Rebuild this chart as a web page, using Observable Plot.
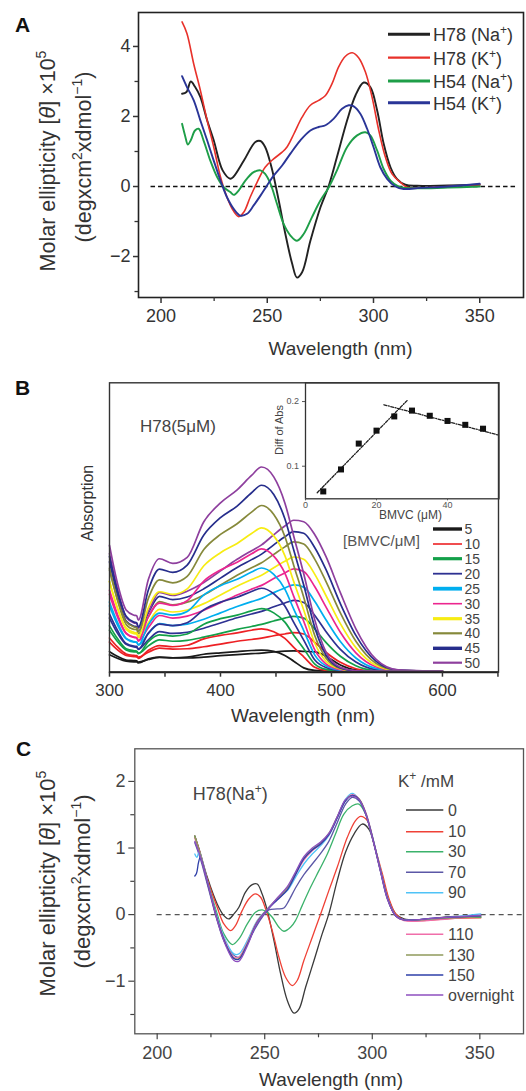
<!DOCTYPE html>
<html>
<head>
<meta charset="utf-8">
<script src="https://cdn.jsdelivr.net/npm/d3@7"></script>
<script src="https://cdn.jsdelivr.net/npm/@observablehq/plot@0.6"></script>
<style>
  html,body{margin:0;padding:0;background:#fff;}
  #page{position:relative;width:526px;height:1091px;overflow:hidden;background:#fff;}
</style>
</head>
<body>
<div id="page"></div>
<script>
// ---------------- Panel A data: CD spectra (wavelength nm, ellipticity x1e5) ----------------
const seriesNamesA = ["H78 (Na+)", "H78 (K+)", "H54 (Na+)", "H54 (K+)"];
const colorsA = ["#222222", "#e8312a", "#1e9e48", "#2a3597"];
const h78Na = [[209.9,2.65],[212,2.7],[214,3.0],[216,2.85],[218.5,2.56],[221.7,1.89],[224.8,1.32],[229,0.46],[232.6,0.22],[234,0.27],[239,0.74],[244.4,1.27],[246.8,1.3],[249,1.13],[252,0.55],[255.4,-0.4],[258.5,-1.35],[261.7,-2.2],[264,-2.6],[266.4,-2.45],[270.3,-1.55],[275,-0.6],[279,0.03],[282.8,0.84],[287.6,1.89],[291.5,2.6],[295.4,2.97],[298.5,2.84],[301.7,2.18],[304.8,1.22],[308,0.55],[311,0.22],[315,0.05],[320.5,0.02],[335,0.03],[350,0.05]];
const h78K = [[209.9,4.7],[212.2,4.37],[215.4,3.5],[218.5,2.75],[221.7,1.89],[224.8,1.13],[228,0.27],[231,-0.3],[234,-0.69],[236.6,-0.86],[239,-0.73],[242,-0.3],[245.2,0.12],[249,0.55],[253,0.79],[257,0.98],[259.3,1.13],[262.5,1.5],[266.4,1.98],[270.3,2.32],[274.2,2.46],[277.4,2.6],[280.5,2.94],[283.6,3.42],[286.8,3.72],[290,3.82],[293,3.68],[296.2,3.27],[299.3,2.56],[302.5,1.6],[305.6,0.84],[308.7,0.36],[312.7,0.12],[315.8,-0.02],[322,-0.04],[335,0.0],[350,0.05]];
const h54Na = [[209.9,1.79],[211.5,1.41],[212.6,1.2],[214,1.32],[216,1.6],[217.7,1.65],[220,1.32],[223.2,0.74],[226.4,0.27],[229.5,-0.02],[232.6,-0.16],[234.2,-0.24],[236.6,-0.11],[239.7,0.17],[243.6,0.41],[246.8,0.46],[249,0.36],[251.5,0.08],[254.6,-0.5],[257.7,-1.07],[260.9,-1.4],[264,-1.55],[267.2,-1.35],[271,-0.88],[275,-0.4],[279,-0.02],[282.8,0.46],[287.6,1.13],[292.3,1.46],[296.2,1.55],[298.5,1.46],[301.7,1.03],[304.8,0.5],[308,0.17],[311.9,0.0],[317.4,-0.05],[335,-0.03],[350,0.0]];
const h54K = [[209.9,3.15],[212.2,2.84],[215.4,2.46],[218.5,1.89],[221.7,1.32],[224.8,0.74],[228,0.17],[231,-0.3],[234.2,-0.64],[237.3,-0.83],[240.5,-0.78],[243.6,-0.54],[246.8,-0.26],[249.9,0.03],[253,0.31],[257,0.6],[260.9,0.94],[265.6,1.32],[270.3,1.6],[274.2,1.7],[277.4,1.75],[281.3,1.94],[285.2,2.22],[288.3,2.32],[290.7,2.29],[293.8,2.08],[297,1.65],[300,1.13],[303.2,0.55],[306.4,0.22],[310.3,0.0],[314.2,-0.07],[322,-0.04],[335,0.0],[350,0.08]];
const xTicksA = [200, 250, 300, 350];
const xMinorA = [225, 275, 325];
const yTicksA = [-2, 0, 2, 4];
const yMinorA = [-3, -1, 1, 3];
const zeroSpanA = [195.3, 367.6];

// ---------------- Panel B data: absorption (wavelength nm, relative absorbance) ----------------
const wlB = [300,307,315,322,324.5,326,335,345,357,370,385,400,415,428,437,448,458,466,475,485,495,508,522,540,560,600];
const concB = ["5","10","15","20","25","30","35","40","45","50"];
const colorsB = ["#1a1a1a","#ed2024","#13a049","#2e3192","#00aeef","#ec268f","#f7ec13","#86893b","#262d8c","#8e3f9e"];
const legendWidthsB = [3.4,1.6,3.2,1.8,3.8,1.6,3.2,2.2,3.4,2.2];
// band peaking near 435 nm
const a5  = [.060,.048,.038,.036,.036,.032,.046,.052,.050,.052,.062,.067,.071,.075,.076,.072,.058,.038,.015,.006,.004,.003,.003,.003,.003,.003];
const a10 = [.104,.078,.058,.054,.053,.048,.076,.092,.088,.093,.115,.127,.136,.145,.150,.140,.117,.086,.053,.017,.006,.003,.003,.003,.003,.003];
const a15 = [.145,.107,.077,.070,.070,.064,.106,.129,.125,.132,.166,.185,.197,.212,.220,.205,.173,.128,.081,.028,.010,.005,.003,.003,.003,.003];
const a20 = [.187,.136,.096,.087,.086,.079,.135,.166,.161,.171,.216,.242,.259,.279,.290,.271,.229,.172,.111,.042,.016,.006,.004,.003,.003,.003];
const a25 = [.229,.165,.115,.104,.103,.094,.164,.204,.197,.210,.267,.299,.321,.346,.360,.338,.287,.218,.144,.059,.022,.007,.004,.003,.003,.003];
const a30 = [.269,.193,.133,.120,.119,.108,.192,.239,.231,.247,.315,.353,.380,.409,.426,.401,.342,.262,.176,.077,.029,.009,.004,.003,.003,.003];
const a35 = [.313,.223,.153,.138,.136,.124,.222,.278,.269,.288,.368,.413,.445,.479,.499,.471,.403,.313,.215,.100,.038,.011,.004,.003,.003,.003];
const a40 = [.359,.255,.174,.156,.154,.141,.255,.319,.309,.331,.424,.476,.513,.553,.576,.545,.469,.369,.259,.126,.049,.013,.005,.003,.003,.003];
const a45 = [.400,.284,.193,.173,.171,.156,.284,.356,.345,.370,.474,.534,.574,.620,.646,.614,.530,.422,.301,.154,.060,.015,.005,.003,.003,.003];
const a50 = [.438,.310,.215,.197,.195,.180,.320,.392,.376,.397,.520,.585,.630,.680,.709,.675,.585,.470,.340,.180,.070,.017,.005,.003,.003,.003];
// band peaking near 468 nm
const b5  = [.071,.055,.042,.040,.039,.035,.044,.051,.049,.049,.052,.057,.061,.064,.066,.070,.073,.074,.072,.070,.055,.025,.008,.004,.003,.003];
const b10 = [.118,.088,.063,.058,.057,.052,.069,.083,.080,.081,.088,.097,.107,.113,.118,.126,.132,.137,.132,.103,.069,.034,.012,.003,.003,.003];
const b15 = [.160,.117,.081,.074,.073,.066,.091,.112,.107,.110,.121,.134,.148,.158,.165,.177,.187,.193,.187,.149,.103,.055,.022,.005,.003,.003];
const b20 = [.201,.146,.099,.090,.089,.080,.112,.140,.134,.138,.152,.170,.188,.201,.210,.226,.239,.248,.241,.196,.141,.079,.035,.009,.004,.003];
const b25 = [.242,.174,.117,.106,.104,.094,.133,.168,.161,.166,.183,.205,.227,.244,.255,.275,.291,.302,.294,.244,.181,.106,.049,.013,.004,.003];
const b30 = [.283,.202,.135,.121,.120,.108,.154,.196,.187,.194,.214,.240,.267,.287,.300,.324,.343,.357,.348,.295,.226,.138,.067,.019,.005,.003];
const b35 = [.314,.224,.148,.133,.132,.119,.171,.217,.208,.215,.237,.267,.297,.320,.335,.361,.383,.398,.390,.338,.265,.168,.085,.024,.005,.003];
const b40 = [.353,.251,.165,.148,.147,.133,.191,.244,.233,.242,.267,.301,.335,.361,.378,.407,.433,.450,.443,.390,.314,.205,.107,.031,.006,.003];
const b45 = [.381,.270,.177,.159,.157,.142,.205,.262,.251,.260,.288,.325,.362,.389,.408,.440,.468,.486,.480,.430,.355,.237,.127,.038,.007,.003];
const b50 = [.410,.290,.190,.170,.168,.152,.210,.276,.265,.280,.310,.350,.390,.420,.440,.475,.505,.525,.520,.475,.400,.275,.150,.045,.008,.003];
const xTicksB = [300, 400, 500, 600];
const xMinorB = [350, 450, 550, 650];

// inset: difference of absorbance vs BMVC concentration
const insetX = [5, 10, 15, 20, 25, 30, 35, 40, 45, 50];
const insetY = [0.061, 0.095, 0.135, 0.155, 0.177, 0.186, 0.178, 0.170, 0.164, 0.158];
const fitRise = [[3.3, 0.059], [28.6, 0.2015]];
const fitFall = [[22.1, 0.195], [54.5, 0.148]];
const insetXTicks = [0, 20, 40];
const insetYTicks = [0.1, 0.2];

// ---------------- Panel C data: CD titration with K+ ----------------
const kLabels = ["0","10","30","70","90","110","130","150","overnight"];
const colorsC = ["#3a3a3a","#ef4136","#3bb26b","#5b57a6","#4fc3f7","#f06eaa","#8f9a5b","#2e3fa8","#8e4fbf"];
const c0 = [[217.5,1.18],[220,0.93],[223.3,0.56],[227.9,0.16],[231,-0.015],[233.3,-0.065],[235.7,0.01],[238,0.11],[241,0.335],[244.2,0.45],[246.5,0.46],[248.8,0.31],[251.2,0.06],[254.3,-0.39],[257.4,-0.89],[260.5,-1.29],[263.6,-1.48],[265.9,-1.42],[269,-1.09],[272.9,-0.69],[276.7,-0.29],[279.8,0.01],[283.7,0.51],[287.6,0.94],[291.5,1.21],[295.3,1.36],[298.4,1.285],[301.6,0.96],[304.7,0.56],[307.8,0.21],[310.9,0.01],[314.7,-0.065],[322.5,-0.08],[336.4,-0.03],[350.4,-0.04]];
const c10 = [[217.5,1.18],[220,0.92],[223.3,0.535],[227.9,0.11],[231,-0.14],[234.1,-0.24],[236.4,-0.165],[239.5,0.06],[242.6,0.235],[245.7,0.31],[248.1,0.26],[250.4,0.085],[253.5,-0.24],[256.6,-0.64],[259.7,-0.94],[262.8,-1.065],[265.1,-0.99],[268.2,-0.69],[272.1,-0.34],[276,0.01],[279.8,0.36],[283.7,0.71],[288.4,1.16],[292.2,1.41],[294.6,1.475],[297.7,1.41],[300.8,1.06],[304.7,0.61],[307.8,0.235],[310.9,0.01],[314.7,-0.08],[322.5,-0.09],[336,-0.06],[350.4,-0.05]];
const c30 = [[217.5,1.18],[220,0.9],[223.3,0.51],[227.9,0.01],[231,-0.29],[234.9,-0.45],[238,-0.365],[241.9,-0.14],[245.7,0.035],[248.8,0.07],[251.2,0.035],[253.5,-0.04],[256.6,-0.19],[258.9,-0.25],[262,-0.19],[264.3,-0.09],[267.4,0.135],[271.3,0.41],[275.2,0.66],[279.1,0.91],[282.9,1.21],[286.8,1.51],[290.7,1.635],[293.8,1.66],[296.9,1.51],[300,1.16],[303.9,0.66],[307,0.26],[310.9,-0.015],[314.7,-0.08],[325,-0.07],[340,-0.04],[350.4,-0.04]];
const c70 = [[217.5,1.08],[220,0.85],[223.3,0.46],[227.9,-0.09],[231,-0.39],[234.9,-0.59],[238,-0.64],[241,-0.49],[245,-0.24],[248.8,-0.04],[251.9,0.07],[255.8,0.085],[258.9,0.1],[261.2,0.21],[264.3,0.4],[268.2,0.6],[272.1,0.76],[276,0.92],[279.8,1.1],[283.7,1.38],[287.6,1.66],[290.7,1.76],[293.8,1.71],[296.9,1.51],[300,1.16],[303.9,0.635],[307,0.235],[310.9,-0.015],[314.7,-0.08],[330,-0.05],[350.4,-0.015]];
const c90 = [[217.5,0.91],[218.5,0.86],[219.5,0.95],[221,0.8],[223.3,0.51],[227.9,-0.04],[231.8,-0.39],[235.7,-0.59],[238,-0.59],[241.9,-0.39],[246.5,-0.09],[251.2,0.085],[255.8,0.235],[260.5,0.36],[264.3,0.56],[268.2,0.76],[272.1,0.91],[276,1.035],[279.8,1.185],[283.7,1.46],[287.6,1.735],[290.7,1.82],[293.8,1.735],[296.9,1.535],[300,1.185],[303.9,0.66],[307,0.26],[310.9,-0.015],[314.7,-0.08],[330,-0.06],[350.4,0.01]];
const c110 = [[217.5,1.15],[220,0.9],[223.3,0.5],[227.9,-0.06],[231.8,-0.42],[235.7,-0.64],[238,-0.64],[241.9,-0.42],[246.5,-0.1],[251.2,0.08],[255.8,0.23],[260.5,0.38],[264.3,0.6],[268.2,0.82],[272.1,0.96],[276,1.06],[279.8,1.2],[283.7,1.46],[287.6,1.72],[290.7,1.8],[293.8,1.74],[296.9,1.54],[300,1.18],[303.9,0.66],[307,0.26],[310.9,-0.02],[314.7,-0.09],[330,-0.08],[350.4,-0.02]];
const c130 = [[217.5,1.17],[220,0.91],[223.3,0.5],[227.9,-0.07],[231.8,-0.44],[235.7,-0.66],[238,-0.66],[241.9,-0.44],[246.5,-0.11],[251.2,0.08],[255.8,0.24],[260.5,0.4],[264.3,0.62],[268.2,0.85],[272.1,0.98],[276,1.08],[279.8,1.22],[283.7,1.47],[287.6,1.72],[290.7,1.79],[293.8,1.74],[296.9,1.53],[300,1.17],[303.9,0.65],[307,0.25],[310.9,-0.02],[314.7,-0.08],[330,-0.06],[350.4,-0.03]];
const c150 = [[217.5,0.58],[218.3,0.62],[219.2,0.78],[220,0.86],[221.5,0.72],[223.3,0.49],[227.9,-0.07],[231.8,-0.44],[235.7,-0.66],[238,-0.67],[241.9,-0.45],[246.5,-0.12],[251.2,0.07],[255.8,0.22],[260.5,0.37],[264.3,0.6],[268.2,0.84],[272.1,0.97],[276,1.06],[279.8,1.2],[283.7,1.45],[287.6,1.71],[290.7,1.79],[293.8,1.73],[296.9,1.52],[300,1.17],[303.9,0.65],[307,0.25],[310.9,-0.02],[314.7,-0.08],[330,-0.05],[350.4,-0.02]];
const cOvernight = [[217.5,1.1],[220,0.88],[223.3,0.5],[227.9,-0.08],[231.8,-0.46],[235.7,-0.69],[238,-0.7],[241.9,-0.47],[246.5,-0.12],[251.2,0.07],[255.8,0.25],[260.5,0.42],[264.3,0.64],[268.2,0.87],[272.1,1.0],[276,1.09],[279.8,1.22],[283.7,1.47],[287.6,1.73],[290.7,1.78],[293.8,1.73],[296.9,1.52],[300,1.16],[303.9,0.64],[307,0.24],[310.9,-0.02],[314.7,-0.08],[330,-0.05],[350.4,-0.01]];
const xTicksC = [200, 250, 300, 350];
const xMinorC = [225, 275, 325];
const yTicksC = [-1, 0, 1, 2];
const yMinorC = [-1.5, -0.5, 0.5, 1.5];
const zeroSpanC = [200, 370];

// ---------------- rendering ----------------
const FONT = '"Liberation Sans", Arial, Helvetica, sans-serif';
const page = document.getElementById("page");
function place(el, left, top) {
  el.style.position = "absolute";
  el.style.left = left + "px";
  el.style.top = top + "px";
  page.appendChild(el);
}
const pt = {x: d => d[0], y: d => d[1]};
const noLabel = () => "";
const intFmt = d3.format("d");

// Panel A
const seriesA = [h78Na, h78K, h54Na, h54K];
const plotA = Plot.plot({
  width: 526, height: 340,
  marginLeft: 138, marginRight: 3, marginTop: 12, marginBottom: 43,
  x: {domain: [189.4, 370.6], label: null},
  y: {domain: [-3.17, 4.97], label: null},
  style: {background: "transparent", fontFamily: FONT, fontSize: "18px", color: "#333", overflow: "visible"},
  marks: [
    Plot.ruleY([0], {x1: zeroSpanA[0], x2: zeroSpanA[1], stroke: "#111", strokeWidth: 1.6, strokeDasharray: "4.5,3"}),
    ...seriesA.map((s, i) => Plot.line(s, {...pt, stroke: colorsA[i], strokeWidth: i === 1 ? 1.6 : 1.9, curve: "catmull-rom"})),
    Plot.frame({stroke: "#222", strokeWidth: 1.6}),
    Plot.axisX({ticks: xTicksA, tickSize: 6, tickPadding: 6, strokeWidth: 1.5, tickFormat: intFmt, label: null}),
    Plot.axisX({ticks: xMinorA, tickSize: 4, tickFormat: noLabel, strokeWidth: 1.3, label: null}),
    Plot.axisY({ticks: yTicksA, tickSize: 5, tickPadding: 3, strokeWidth: 1.5, tickFormat: intFmt, label: null}),
    Plot.axisY({ticks: yMinorA, tickSize: 3.5, tickFormat: noLabel, strokeWidth: 1.3, label: null})
  ]
});
place(plotA, 0, 0);

// Panel B
const famA = [a5,a10,a15,a20,a25,a30,a35,a40,a45,a50];
const famB = [b5,b10,b15,b20,b25,b30,b35,b40,b45,b50];
const plotB = Plot.plot({
  width: 526, height: 360,
  marginLeft: 109, marginRight: 28, marginTop: 12.3, marginBottom: 58.3,
  x: {domain: [300, 650.5], label: null},
  y: {domain: [0, 1], axis: null, label: null},
  style: {background: "transparent", fontFamily: FONT, fontSize: "17px", color: "#333", overflow: "visible"},
  marks: [
    ...famB.map((v, i) => Plot.line(v, {x: (d, j) => wlB[j], y: d => d, stroke: colorsB[i], strokeWidth: 1.7, curve: "monotone-x"})),
    ...famA.map((v, i) => Plot.line(v, {x: (d, j) => wlB[j], y: d => d, stroke: colorsB[i], strokeWidth: 1.7, curve: "monotone-x"})),
    Plot.frame({stroke: "#333", strokeWidth: 1.4}),
    Plot.ruleY([0], {stroke: "#222", strokeWidth: 2}),
    Plot.axisX({ticks: xTicksB, tickSize: 5, tickPadding: 7, strokeWidth: 1.5, tickFormat: intFmt, label: null}),
    Plot.axisX({ticks: xMinorB, tickSize: 5, tickFormat: noLabel, strokeWidth: 1.5, label: null})
  ]
});
place(plotB, 0, 370);

// Inset of panel B
const insetPts = insetX.map((x, i) => ({x, y: insetY[i]}));
const plotInset = Plot.plot({
  width: 240, height: 150,
  marginLeft: 40, marginRight: 6.5, marginTop: 7.3, marginBottom: 26.7,
  x: {domain: [0, 54.5], label: null},
  y: {domain: [0.0496, 0.229], label: null},
  style: {background: "transparent", fontFamily: FONT, fontSize: "9px", color: "#555", overflow: "visible"},
  marks: [
    Plot.line(fitRise, {...pt, stroke: "#222", strokeWidth: 1.3, strokeDasharray: "3,1.5,1,1.5"}),
    Plot.line(fitFall, {...pt, stroke: "#222", strokeWidth: 1.3, strokeDasharray: "3,1.5,1,1.5"}),
    Plot.dot(insetPts, {x: "x", y: "y", symbol: "square", fill: "#111", r: 3.4}),
    Plot.frame({stroke: "#333", strokeWidth: 1.3}),
    Plot.axisX({ticks: insetXTicks, tickSize: 2, tickPadding: 1, tickFormat: intFmt, label: null}),
    Plot.axisY({ticks: insetYTicks, tickSize: 3, tickPadding: 3.5, tickFormat: d3.format(".1f"), label: null})
  ]
});
place(plotInset, 265, 375);

// Panel C
const seriesC = [c0, c10, c30, c70, c90, c110, c130, c150, cOvernight];
const plotC = Plot.plot({
  width: 526, height: 335,
  marginLeft: 134.3, marginRight: 3, marginTop: 13.3, marginBottom: 36.7,
  x: {domain: [189.6, 370.3], label: null},
  y: {domain: [-1.79, 2.49], label: null},
  style: {background: "transparent", fontFamily: FONT, fontSize: "18px", color: "#444", overflow: "visible"},
  marks: [
    Plot.ruleY([0], {x1: zeroSpanC[0], x2: zeroSpanC[1], stroke: "#555", strokeWidth: 1.2, strokeDasharray: "5,4"}),
    ...seriesC.map((s, i) => Plot.line(s, {...pt, stroke: colorsC[i], strokeWidth: 1.3, curve: "catmull-rom"})),
    Plot.frame({stroke: "#555", strokeWidth: 1.3}),
    Plot.axisX({ticks: xTicksC, tickSize: 6, tickPadding: 6, strokeWidth: 1.2, tickFormat: intFmt, label: null}),
    Plot.axisX({ticks: xMinorC, tickSize: 4, tickFormat: noLabel, strokeWidth: 1.2, label: null}),
    Plot.axisY({ticks: yTicksC, tickSize: 6, tickPadding: 3.3, strokeWidth: 1.2, tickFormat: intFmt, label: null}),
    Plot.axisY({ticks: yMinorC, tickSize: 4, tickFormat: noLabel, strokeWidth: 1.2, label: null})
  ]
});
place(plotC, 0, 735);

// ---------------- overlay text: titles, axis titles, legends ----------------
const sup = (t, size, up) => `<tspan dy="-${up}" font-size="${size}">${t}</tspan>`;
const down = (t, up) => `<tspan dy="${up}">${t}</tspan>`;
const rowsA = [34.3, 57.7, 81, 102.7];
const rowsB = [529, 544, 558.7, 573.7, 588.7, 603.7, 618.7, 633.3, 648.3, 662.7];
const rowsC = [810, 831.7, 851.7, 872.3, 892.7, 934.3, 955, 975, 995];
function legendTextA(name) {
  const m = name.match(/^(.*)\((Na|K)\+\)$/);
  return `${m[1]}(${m[2]}${sup("+", 12, 7)}${down(")", 7)}`;
}
let ov = `<svg xmlns="http://www.w3.org/2000/svg" width="526" height="1091" style="font-family:${FONT.replace(/"/g, "'")}">`;
// Panel A
ov += `<text x="15" y="32" font-size="21" font-weight="bold" fill="#111">A</text>`;
ov += `<text transform="translate(55,161) rotate(-90)" text-anchor="middle" font-size="21.5" fill="#333">Molar ellipticity [<tspan font-style="italic">θ</tspan>] ×10${sup("5", 14, 9)}</text>`;
ov += `<text transform="translate(91,157) rotate(-90)" text-anchor="middle" font-size="21.5" fill="#333">(degxcm${sup("2", 14, 9)}${down("xdmol", 9)}${sup("−1", 14, 9)}${down(")", 9)}</text>`;
ov += `<text x="340.5" y="355" text-anchor="middle" font-size="19" fill="#333">Wavelength (nm)</text>`;
seriesNamesA.forEach((n, i) => {
  ov += `<line x1="388" x2="430" y1="${rowsA[i]}" y2="${rowsA[i]}" stroke="${colorsA[i]}" stroke-width="${i === 1 ? 2.2 : 3}"/>`;
  ov += `<text x="433" y="${rowsA[i] + 7}" font-size="18" fill="#333">${legendTextA(n)}</text>`;
});
// Panel B
ov += `<text x="15" y="395" font-size="21" font-weight="bold" fill="#111">B</text>`;
ov += `<text transform="translate(93,503) rotate(-90)" text-anchor="middle" font-size="16" fill="#333">Absorption</text>`;
ov += `<text x="140" y="432" font-size="17" fill="#444">H78(5μM)</text>`;
ov += `<text x="343" y="545.5" font-size="15" fill="#555">[BMVC/μM]</text>`;
ov += `<text x="303" y="722" text-anchor="middle" font-size="19" fill="#333">Wavelength (nm)</text>`;
ov += `<text transform="translate(283,430) rotate(-90)" text-anchor="middle" font-size="11" fill="#444">Diff of Abs</text>`;
ov += `<text x="410.5" y="519" text-anchor="middle" font-size="12" fill="#444">BMVC (μM)</text>`;
concB.forEach((c, i) => {
  ov += `<line x1="433" x2="462" y1="${rowsB[i]}" y2="${rowsB[i]}" stroke="${colorsB[i]}" stroke-width="${legendWidthsB[i]}"/>`;
  ov += `<text x="464.5" y="${rowsB[i] + 5}" font-size="14" fill="#444">${c}</text>`;
});
// Panel C
ov += `<text x="16" y="756" font-size="21" font-weight="bold" fill="#111">C</text>`;
ov += `<text transform="translate(55,883.5) rotate(-90)" text-anchor="middle" font-size="22" fill="#333">Molar ellipticity [<tspan font-style="italic">θ</tspan>] ×10${sup("5", 14, 9)}</text>`;
ov += `<text transform="translate(90,881.5) rotate(-90)" text-anchor="middle" font-size="22" fill="#333">(degxcm${sup("2", 14, 9)}${down("xdmol", 9)}${sup("−1", 14, 9)}${down(")", 9)}</text>`;
ov += `<text x="192.7" y="800" font-size="18" fill="#444">H78(Na${sup("+", 12, 7)}${down(")", 7)}</text>`;
ov += `<text x="398" y="787" font-size="17" fill="#444">K${sup("+", 12, 7)}${down(" /mM", 7)}</text>`;
ov += `<text x="331" y="1086" text-anchor="middle" font-size="19" fill="#333">Wavelength (nm)</text>`;
kLabels.forEach((k, i) => {
  ov += `<line x1="406" x2="443.3" y1="${rowsC[i]}" y2="${rowsC[i]}" stroke="${colorsC[i]}" stroke-width="1.4"/>`;
  ov += `<text x="448" y="${rowsC[i] + 5.7}" font-size="16" fill="#444">${k}</text>`;
});
ov += `</svg>`;
const holder = document.createElement("div");
holder.innerHTML = ov;
const ovSvg = holder.firstChild;
ovSvg.style.pointerEvents = "none";
place(ovSvg, 0, 0);
</script>
</body>
</html>
